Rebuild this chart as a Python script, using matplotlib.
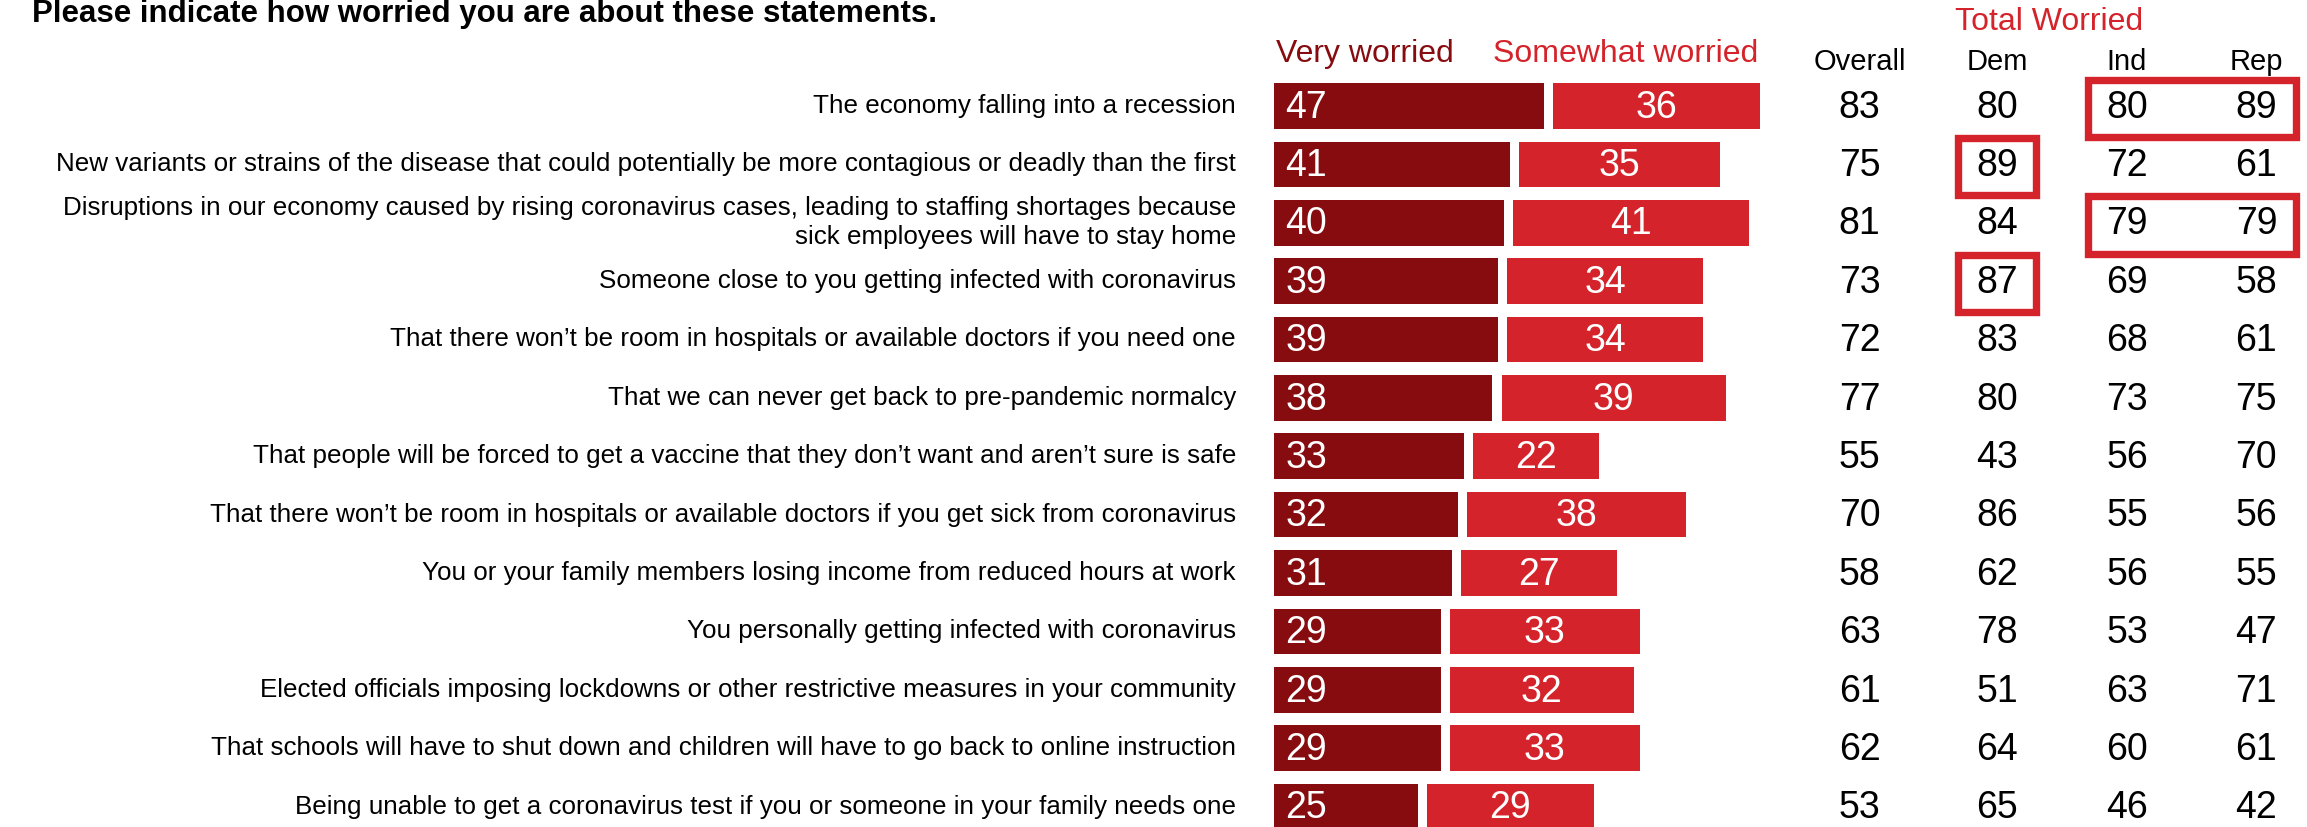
import matplotlib
matplotlib.use("Agg")
import matplotlib.pyplot as plt
from matplotlib.patches import Rectangle

plt.rcParams['font.family'] = ['Liberation Sans', 'DejaVu Sans']

labels = [
    "The economy falling into a recession",
    "New variants or strains of the disease that could potentially be more contagious or deadly than the first",
    "Disruptions in our economy caused by rising coronavirus cases, leading to staffing shortages because\nsick employees will have to stay home",
    "Someone close to you getting infected with coronavirus",
    "That there won\u2019t be room in hospitals or available doctors if you need one",
    "That we can never get back to pre-pandemic normalcy",
    "That people will be forced to get a vaccine that they don\u2019t want and aren\u2019t sure is safe",
    "That there won\u2019t be room in hospitals or available doctors if you get sick from coronavirus",
    "You or your family members losing income from reduced hours at work",
    "You personally getting infected with coronavirus",
    "Elected officials imposing lockdowns or other restrictive measures in your community",
    "That schools will have to shut down and children will have to go back to online instruction",
    "Being unable to get a coronavirus test if you or someone in your family needs one",
]
very = [47, 41, 40, 39, 39, 38, 33, 32, 31, 29, 29, 29, 25]
somewhat = [36, 35, 41, 34, 34, 39, 22, 38, 27, 33, 32, 33, 29]
overall = [83, 75, 81, 73, 72, 77, 55, 70, 58, 63, 61, 62, 53]
dem = [80, 89, 84, 87, 83, 80, 43, 86, 62, 78, 51, 64, 65]
ind = [80, 72, 79, 69, 68, 73, 56, 55, 56, 53, 63, 60, 46]
rep = [89, 61, 79, 58, 61, 75, 70, 56, 55, 47, 71, 61, 42]
col_names = ["Overall", "Dem", "Ind", "Rep"]
# highlighted cells: (row, first column, last column)
highlights = [(0, 2, 3), (1, 1, 1), (2, 2, 3), (3, 1, 1)]

dark = "#860c10"
red = "#d4232a"

fig = plt.figure(figsize=(23.07, 8.27), dpi=100)
ax = fig.add_axes([0, 0, 1, 1])
ax.set_xlim(-221.6, 179.7)
ax.set_ylim(12.35, -1.815)
ax.axis("off")

rows = list(range(len(labels)))
gap = 1.6
h = 0.78
ax.barh(rows, very, height=h, color=dark)
ax.barh(rows, somewhat, left=[v + gap for v in very], height=h, color=red)

col_x = [101.9, 125.8, 148.4, 170.9]
cols = [overall, dem, ind, rep]
for i in rows:
    ax.text(-6.6, i, labels[i], ha="right", va="center", fontsize=18.7,
            multialignment="right", linespacing=1.25)
    ax.text(2.0, i + 0.03, str(very[i]), ha="left", va="center", color="white", fontsize=27)
    ax.text(very[i] + gap + somewhat[i] / 2, i + 0.03, str(somewhat[i]), ha="center",
            va="center", color="white", fontsize=27)
    for cx, vals in zip(col_x, cols):
        ax.text(cx, i + 0.03, str(vals[i]), ha="center", va="center", fontsize=27)

for cx, name in zip(col_x, col_names):
    ax.text(cx, -0.76, name, ha="center", va="center", fontsize=21)

ax.text(15.9, -0.89, "Very worried", ha="center", va="center", fontsize=23, color=dark)
ax.text(61.2, -0.89, "Somewhat worried", ha="center", va="center", fontsize=23, color=red)
ax.text(134.8, -1.44, "Total Worried", ha="center", va="center", fontsize=23, color=red)
ax.text(-216, -1.57, "Please indicate how worried you are about these statements.",
        ha="left", va="center", fontsize=22.5, fontweight="bold")

pad = 6.8
for r, c0, c1 in highlights:
    x0 = col_x[c0] - pad
    x1 = col_x[c1] + pad
    ax.add_patch(Rectangle((x0, r - 0.45), x1 - x0, 0.98, fill=False,
                           edgecolor=red, linewidth=5.3))

fig.savefig("out.png", dpi=100)
